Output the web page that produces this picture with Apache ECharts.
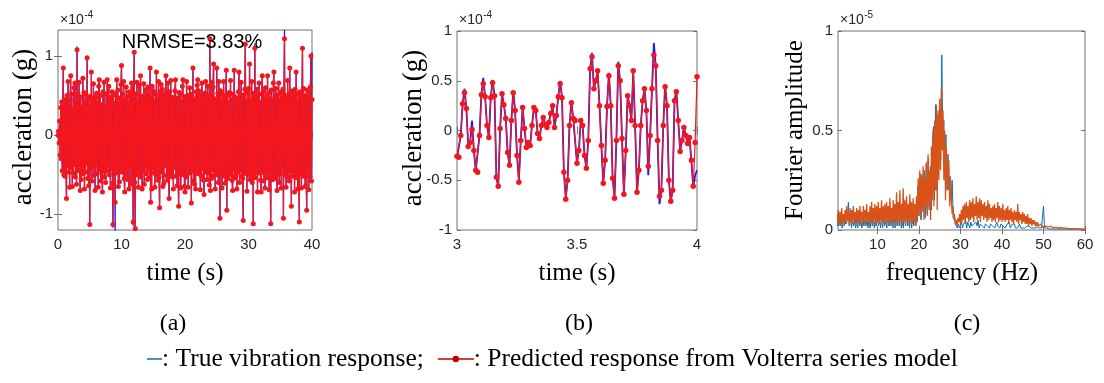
<!DOCTYPE html>
<html><head><meta charset="utf-8">
<script src="https://cdn.jsdelivr.net/npm/echarts@6/dist/echarts.min.js"></script>
<style>html,body{margin:0;padding:0;background:#fff}#c{width:1104px;height:383px}</style>
</head><body><div id="c"></div><script>
// ---------------- DATA ----------------
// (a) full record 0-40 s (×1e-4 g), predicted response, 12 samples per second
const predA = [
0.00,0.05,-0.10,0.18,-0.25,0.35,-0.30,0.42,-0.45,0.38,0.85,-0.50,
0.40,-0.52,0.45,-0.36,-0.80,0.50,-0.38,0.68,-0.47,0.36,-0.66,0.44,
0.75,-0.41,0.52,-0.65,0.33,-0.48,0.60,-0.37,0.66,-0.53,0.39,-0.62,
1.08,-0.45,0.51,-0.38,0.67,-0.44,-0.70,0.48,-0.56,0.35,-0.49,0.72,
-0.43,0.54,-0.68,0.40,-0.47,0.52,-0.36,0.98,-0.55,0.45,-0.64,0.37,
-1.13,0.49,-0.42,0.80,-0.58,0.46,-0.39,0.65,-0.51,0.42,-0.70,0.48,
-0.37,0.53,-0.49,0.41,-0.66,0.62,0.70,-0.44,0.50,-0.58,0.38,-0.46,
-0.72,0.55,-0.41,0.67,-0.53,0.36,-0.60,0.52,-0.45,0.70,-0.39,0.44,
0.62,-0.50,0.43,-0.67,0.48,-0.42,0.55,-0.61,-1.13,0.51,-0.46,0.40,
-0.85,0.53,-0.48,0.70,-0.44,0.57,-0.65,0.39,-0.59,0.47,-0.41,0.64,
0.88,-0.47,0.52,-0.40,0.68,-0.55,-0.72,0.45,-0.50,0.61,-0.43,0.49,
-0.56,0.42,-0.68,0.55,-0.39,0.51,-0.62,0.66,-0.53,0.60,-1.10,0.48,
1.05,-0.60,-1.18,0.52,-0.45,0.67,-0.50,0.41,-0.66,0.63,-0.47,0.44,
0.75,-0.53,0.49,-0.68,0.42,-0.46,0.65,-0.62,0.51,-0.40,0.57,-0.49,
0.45,-0.56,0.61,-0.43,0.50,-0.54,0.85,-0.85,0.47,-0.68,0.62,-0.41,
0.56,-0.48,0.43,-0.66,0.52,-0.45,0.80,-0.51,0.46,-0.57,0.68,-0.53,
-0.92,0.55,-0.47,0.64,-0.42,0.58,-0.65,0.44,-0.61,0.49,-0.38,0.53,
0.75,-0.51,0.46,-0.57,0.66,-0.48,-0.80,0.55,-0.44,0.69,-0.50,0.41,
-0.53,0.48,-0.68,0.45,-0.41,0.56,0.70,-0.52,0.47,-0.64,0.43,-0.49,
-0.90,0.54,-0.46,0.51,-0.67,0.42,-0.50,0.62,0.70,-0.45,0.49,-0.65,
-0.72,0.47,-0.53,0.68,-0.41,0.50,-0.66,0.45,-0.48,0.60,-0.43,0.52,
-0.86,0.50,-0.45,0.85,-0.58,0.46,-0.62,0.41,-0.68,0.55,-0.47,0.63,
0.70,-0.49,0.56,-0.44,0.51,-0.69,0.45,-0.52,0.66,-0.42,0.48,-0.57,
-0.75,0.53,-0.47,0.68,-0.43,0.50,-0.56,0.62,-0.48,0.45,-0.63,1.22,
-0.70,0.49,-0.55,0.67,-0.44,0.61,0.90,-0.51,0.46,-0.68,0.42,-0.50,
0.85,-0.47,0.53,-0.60,0.68,-0.42,-1.05,0.56,-0.49,0.44,-0.67,0.51,
-0.45,0.68,-0.52,0.47,-0.61,0.43,0.82,-0.95,0.50,-0.55,0.41,-0.48,
0.54,-0.46,0.69,-0.50,0.45,-0.57,-0.70,0.52,-0.43,0.82,-0.54,0.48,
-0.51,0.46,-0.68,0.42,-0.47,0.55,0.80,-0.60,0.49,-0.44,0.67,-0.52,
0.47,-0.55,-1.08,0.51,-0.46,0.58,1.15,-0.49,0.43,-0.71,0.54,-0.45,
0.59,-0.50,0.90,-0.56,0.44,-0.52,0.68,-0.60,0.53,-1.12,0.46,-0.49,
1.10,-0.54,0.49,-0.45,0.58,-0.72,0.51,-0.43,0.66,-0.48,0.42,-0.57,
-0.72,0.52,0.75,-0.47,0.55,-0.58,0.44,-0.67,0.60,-0.45,0.49,-0.54,
0.75,-0.48,0.53,-0.69,0.46,-0.42,-1.12,0.57,-0.51,0.44,-0.56,0.66,
0.80,-0.55,0.47,-0.52,0.59,-0.44,-0.70,0.51,-0.47,0.66,-0.60,0.43,
-0.49,0.54,-0.67,0.46,-0.41,0.58,-1.05,0.52,1.22,-0.50,0.45,-0.66,
0.48,-0.53,0.69,-0.46,0.51,-0.58,0.85,-0.44,0.55,-0.90,0.47,-0.52,
0.56,-0.45,0.50,-0.72,0.58,-0.49,0.80,-0.54,0.43,-0.68,0.52,-0.47,
-1.10,0.55,-0.48,0.51,-0.67,0.44,1.10,-0.52,0.59,-0.46,0.50,-0.65,
0.46,-0.51,-0.95,0.57,-0.43,0.54,-0.69,0.48,-0.52,0.61,1.00,-0.58,
0.45];
// (a) true response: identical to the prediction except where the blue trace shows: [time s, value]
const trueDiffA = [[3.0,1.12],[8.667,-1.17],[9.0,-1.22],[11.833,-1.15],[12.167,-1.28],[23.917,1.25],
  [29.5,1.18],[30.75,-1.15],[31.0,1.16],[33.5,-1.15],[35.667,1.33],[40.0,1.05]];
const spanA = [0, 40];

// (b) zoom 3-4 s (×1e-4 g), 128 samples per second
const predB = [
-0.26,-0.27,-0.05,0.27,0.38,0.22,-0.16,-0.12,0.01,-0.20,
-0.40,-0.42,-0.05,0.36,0.47,0.34,0.05,-0.07,0.33,0.48,
0.35,-0.47,-0.56,0.02,0.37,0.26,0.12,-0.22,-0.35,0.10,
0.38,0.20,-0.25,-0.52,-0.10,0.23,0.02,-0.17,-0.12,-0.15,
0.05,0.23,0.20,-0.03,-0.08,0.05,0.13,0.06,0.03,0.08,
0.17,0.25,0.03,0.15,0.34,0.47,0.33,-0.42,-0.69,-0.50,
0.05,0.28,0.12,0.10,-0.33,-0.20,0.10,0.05,-0.25,-0.38,
-0.10,0.62,0.74,0.42,0.50,0.60,0.25,-0.15,-0.53,-0.30,
0.24,0.55,0.25,-0.48,-0.68,-0.10,0.65,0.50,-0.08,-0.64,
-0.20,0.35,0.25,0.10,0.60,0.05,-0.62,-0.40,0.05,0.30,
0.42,0.20,-0.36,-0.05,0.42,0.76,0.65,-0.10,-0.66,-0.60,
0.05,0.44,0.25,-0.50,-0.71,-0.60,0.30,0.39,0.10,-0.21,
-0.10,0.03,-0.05,-0.13,-0.07,-0.30,-0.56,-0.12,0.54];
const trueB = [
-0.28,-0.27,-0.05,0.27,0.42,0.22,-0.16,-0.12,0.10,-0.20,
-0.40,-0.42,-0.05,0.36,0.53,0.34,0.05,-0.07,0.33,0.51,
0.35,-0.47,-0.57,0.02,0.37,0.26,0.12,-0.22,-0.35,0.10,
0.40,0.20,-0.25,-0.50,-0.10,0.23,0.02,-0.17,-0.12,-0.15,
0.05,0.23,0.20,-0.03,-0.08,0.05,0.14,0.06,0.03,0.08,
0.17,0.25,0.03,0.15,0.34,0.50,0.33,-0.42,-0.68,-0.50,
0.05,0.29,0.12,0.10,-0.33,-0.20,0.10,0.05,-0.25,-0.38,
-0.10,0.62,0.78,0.42,0.50,0.60,0.25,-0.15,-0.53,-0.30,
0.24,0.58,0.25,-0.48,-0.68,-0.10,0.69,0.50,-0.08,-0.64,
-0.20,0.35,0.25,0.10,0.60,0.05,-0.62,-0.40,0.05,0.30,
0.42,0.20,-0.45,-0.05,0.42,0.88,0.65,-0.10,-0.74,-0.60,
0.05,0.46,0.25,-0.50,-0.72,-0.60,0.30,0.41,0.10,-0.21,
-0.10,0.03,-0.05,-0.13,-0.07,-0.30,-0.57,-0.45,-0.40];
const spanB = [3, 4];

// (c) Fourier amplitude (×1e-5); predicted every 0.2 Hz, true every 0.25 Hz, 0-60 Hz
const specPred = [
0.02,0.08,0.03,0.10,0.04, 0.09,0.03,0.11,0.02,0.08, 0.04,0.10,0.03,0.12,0.05, 0.09,0.02,0.11,0.04,0.10,
0.03,0.12,0.05,0.09,0.02, 0.11,0.04,0.10,0.03,0.12, 0.05,0.09,0.02,0.12,0.04, 0.10,0.03,0.13,0.05,0.09,
0.02,0.12,0.04,0.14,0.03, 0.11,0.05,0.13,0.02,0.12, 0.04,0.14,0.03,0.11,0.05, 0.15,0.02,0.12,0.04,0.13,
0.03,0.14,0.05,0.12,0.02, 0.16,0.04,0.11,0.03,0.15, 0.05,0.13,0.02,0.19,0.04, 0.14,0.03,0.20,0.05,0.13,
0.02,0.21,0.04,0.15,0.03, 0.17,0.05,0.13,0.02,0.18, 0.04,0.14,0.03,0.16,0.05, 0.13,0.02,0.17,0.04,0.26,
0.08,0.30,0.06,0.28,0.10, 0.32,0.05,0.26,0.12,0.34, 0.07,0.38,0.10,0.30,0.05, 0.42,0.15,0.50,0.12,0.55,
0.20,0.63,0.10,0.60,0.25, 0.66,0.30,0.72,0.40,0.60, 0.25,0.50,0.15,0.42,0.30, 0.20,0.35,0.12,0.25,0.15,
0.08,0.12,0.05,0.07,0.03, 0.05,0.02,0.06,0.04,0.08, 0.03,0.10,0.04,0.12,0.05, 0.13,0.03,0.14,0.06,0.12,
0.04,0.15,0.05,0.14,0.06, 0.16,0.04,0.13,0.07,0.17, 0.05,0.14,0.06,0.16,0.04, 0.15,0.07,0.13,0.05,0.14,
0.06,0.12,0.04,0.15,0.05, 0.13,0.06,0.11,0.04,0.12, 0.05,0.13,0.04,0.11,0.06, 0.14,0.04,0.12,0.05,0.11,
0.04,0.13,0.05,0.10,0.04, 0.11,0.05,0.12,0.03,0.10, 0.05,0.11,0.04,0.09,0.03, 0.10,0.05,0.09,0.04,0.13,
0.03,0.09,0.05,0.08,0.03, 0.09,0.04,0.08,0.03,0.07, 0.03,0.08,0.02,0.06,0.03, 0.06,0.02,0.05,0.03,0.05,
0.02,0.04,0.02,0.04,0.02, 0.03,0.02,0.03,0.02,0.02, 0.01,0.02,0.01,0.02,0.01, 0.02,0.015,0.02,0.01,0.02,
0.015,0.02,0.01,0.015,0.01, 0.015,0.01,0.015,0.01,0.012, 0.01,0.012,0.008,0.01,0.009, 0.01,0.008,0.009,0.007,0.008,
0.007,0.008,0.006,0.007,0.006, 0.006,0.007,0.005,0.006,0.005, 0.005,0.006,0.005,0.005,0.004, 0.005,0.004,0.005,0.004,0.004,
0.004];
const specTrue = [
0.01,0.05,0.02,0.06, 0.02,0.06,0.01,0.07, 0.02,0.06,0.03,0.05, 0.14,0.02,0.06,0.01, 0.06,0.02,0.05,0.01,
0.06,0.01,0.07,0.02, 0.05,0.01,0.06,0.02, 0.06,0.02,0.05,0.01, 0.07,0.01,0.06,0.02, 0.06,0.01,0.07,0.02,
0.07,0.02,0.06,0.01, 0.08,0.01,0.07,0.02, 0.07,0.01,0.08,0.02, 0.08,0.02,0.07,0.01, 0.09,0.01,0.08,0.02,
0.10,0.02,0.09,0.01, 0.10,0.01,0.09,0.02, 0.09,0.02,0.08,0.01, 0.08,0.01,0.09,0.02, 0.08,0.02,0.07,0.22,
0.07,0.28,0.05,0.27, 0.09,0.30,0.06,0.33, 0.08,0.36,0.12,0.32, 0.10,0.45,0.52,0.15, 0.63,0.20,0.58,0.30,
0.65,0.35,0.88,0.45, 0.55,0.30,0.48,0.20, 0.38,0.22,0.27,0.15, 0.25,0.06,0.08,0.03, 0.02,0.01,0.03,0.01,
0.02,0.04,0.01,0.03, 0.02,0.05,0.01,0.04, 0.03,0.01,0.04,0.02, 0.01,0.03,0.02,0.04, 0.02,0.05,0.01,0.03,
0.04,0.02,0.03,0.01, 0.03,0.04,0.02,0.03, 0.01,0.03,0.04,0.02, 0.03,0.01,0.02,0.04, 0.02,0.03,0.01,0.03,
0.04,0.02,0.03,0.01, 0.02,0.03,0.02,0.04, 0.01,0.02,0.03,0.02, 0.03,0.01,0.02,0.01, 0.02,0.03,0.01,0.02,
0.01,0.02,0.01,0.02, 0.02,0.01,0.02,0.01, 0.01,0.015,0.01,0.01, 0.01,0.01,0.015,0.01, 0.01,0.008,0.01,0.008,
0.12,0.01,0.008,0.01, 0.008,0.006,0.008,0.006, 0.006,0.005,0.006,0.005, 0.006,0.005,0.006,0.005, 0.006,0.005,0.005,0.005,
0.005,0.005,0.005,0.004, 0.005,0.004,0.005,0.004, 0.004,0.005,0.004,0.004, 0.004,0.004,0.004,0.004, 0.004,0.004,0.004,0.004,
0.004];
const spanC = [0, 60];

// tick labels
const ticksAx = [0, 10, 20, 30, 40];
const ticksAy = [-1, 0, 1];
const ticksBx = [3, 3.5, 4];
const ticksBy = [-1, -0.5, 0, 0.5, 1];
const ticksCx = [10, 20, 30, 40, 50, 60];
const ticksCy = [0, 0.5, 1];

// texts
const yTitleAB = 'accleration (g)';
const yTitleC = 'Fourier amplitude';
const xTitleAB = 'time (s)';
const xTitleC = 'frequency (Hz)';
const panelLabels = ['(a)', '(b)', '(c)'];
const expAB = '-4', expC = '-5';
const nrmse = 'NRMSE=3.83%';
const legendTexts = [': True vibration response;', ': Predicted response from Volterra series model'];

// ---------------- CHART ----------------
const pairs = (span, ys) => ys.map((v, i) => [span[0] + (span[1] - span[0]) * i / (ys.length - 1), v]);
const trueA = predA.slice();
trueDiffA.forEach(([t, v]) => { trueA[Math.round((t - spanA[0]) / (spanA[1] - spanA[0]) * (predA.length - 1))] = v; });

const SANS = "'Liberation Sans', Arial, sans-serif";
const SERIF = "'Liberation Serif', 'Times New Roman', serif";
const FRAME = '#707070';
const TXT = '#262626';
const RED = '#f2161e', BLUE = '#1c1cf0';
const MBLUE = '#0072BD', MORANGE = '#D95319';

const grids = [
  {left: 58, top: 30, width: 254, height: 200},
  {left: 457, top: 31, width: 240, height: 199},
  {left: 838, top: 31, width: 247, height: 199}
].map(g => Object.assign(g, {show: true, borderColor: FRAME, borderWidth: 1, backgroundColor: 'transparent', containLabel: false}));

function axis(dir, gi, min, max, ticks, secondary) {
  return {
    gridIndex: gi, type: 'value', min, max,
    position: dir === 'x' ? (secondary ? 'top' : 'bottom') : (secondary ? 'right' : 'left'),
    axisLine: {show: false},
    splitLine: {show: false},
    axisTick: {show: true, inside: true, length: 4, customValues: ticks, lineStyle: {color: FRAME, width: 1}},
    axisLabel: {show: !secondary, customValues: ticks, color: TXT, fontFamily: SANS, fontSize: 15,
      margin: dir === 'x' ? 7 : 5}
  };
}

const xAxes = [
  axis('x', 0, 0, 40, ticksAx), axis('x', 1, 3, 4, ticksBx), axis('x', 2, 0.5, 60, ticksCx),
  axis('x', 0, 0, 40, ticksAx, true), axis('x', 1, 3, 4, ticksBx, true), axis('x', 2, 0.5, 60, ticksCx, true)
];
const yAxes = [
  axis('y', 0, -1.2, 1.33, ticksAy), axis('y', 1, -1, 1, ticksBy), axis('y', 2, 0, 1, ticksCy),
  axis('y', 0, -1.2, 1.33, ticksAy, true), axis('y', 1, -1, 1, ticksBy, true), axis('y', 2, 0, 1, ticksCy, true)
];

const series = [
  {type: 'line', xAxisIndex: 0, yAxisIndex: 0, data: pairs(spanA, trueA), showSymbol: false,
    lineStyle: {color: BLUE, width: 1.3}, z: 2},
  {type: 'line', xAxisIndex: 0, yAxisIndex: 0, data: pairs(spanA, predA), symbol: 'circle', symbolSize: 5,
    itemStyle: {color: RED}, lineStyle: {color: RED, width: 1.2}, z: 3},
  {type: 'line', xAxisIndex: 1, yAxisIndex: 1, data: pairs(spanB, trueB), showSymbol: false,
    lineStyle: {color: BLUE, width: 1.8}, z: 2},
  {type: 'line', xAxisIndex: 1, yAxisIndex: 1, data: pairs(spanB, predB), symbol: 'circle', symbolSize: 5.5,
    itemStyle: {color: RED}, lineStyle: {color: RED, width: 1.2}, z: 3},
  {type: 'line', xAxisIndex: 2, yAxisIndex: 2, data: pairs(spanC, specTrue), showSymbol: false,
    lineStyle: {color: MBLUE, width: 1}, z: 2},
  {type: 'line', xAxisIndex: 2, yAxisIndex: 2, data: pairs(spanC, specPred), showSymbol: false,
    lineStyle: {color: MORANGE, width: 1.3}, z: 3}
].map(s => Object.assign(s, {animation: false, silent: true, clip: true}));

const mctx = document.createElement('canvas').getContext('2d');
function tw(text, font) { mctx.font = font; return mctx.measureText(text).width; }

const graphics = [];
function txt(text, x, y, size, family, rot) {
  const g = {type: 'text', x, y, silent: true, z: 50,
    style: {text, fill: '#000', font: size + 'px ' + family, textAlign: 'center', textVerticalAlign: 'middle'}};
  if (rot) g.rotation = rot;
  graphics.push(g);
}
txt(yTitleAB, 24, 127, 27, SERIF, Math.PI / 2);
txt(yTitleAB, 414, 128, 27, SERIF, Math.PI / 2);
txt(yTitleC, 795, 130, 25, SERIF, Math.PI / 2);
txt(xTitleAB, 185, 273, 25, SERIF);
txt(xTitleAB, 577, 273, 25, SERIF);
txt(xTitleC, 962, 273, 25, SERIF);
txt(panelLabels[0], 173, 324, 24, SERIF);
txt(panelLabels[1], 579, 324, 24, SERIF);
txt(panelLabels[2], 967, 324, 24, SERIF);
txt(nrmse, 192, 42, 20, SANS);

function expo(x, exp) {
  const f1 = '14px ' + SANS, f2 = '10px ' + SANS;
  const w = tw('×10', f1);
  graphics.push({type: 'text', x, y: 20, silent: true, z: 50, style: {text: '×10', font: f1, fill: TXT, textAlign: 'left', textVerticalAlign: 'middle'}});
  graphics.push({type: 'text', x: x + w + 0.5, y: 15, silent: true, z: 50, style: {text: exp, font: f2, fill: TXT, textAlign: 'left', textVerticalAlign: 'middle'}});
}
expo(60, expAB); expo(459, expAB); expo(840, expC);

(function () {
  const font = '25.5px ' + SERIF;
  const y = 359;
  let x = 147;
  graphics.push({type: 'line', silent: true, shape: {x1: x, y1: y, x2: x + 15, y2: y}, style: {stroke: MBLUE, lineWidth: 1.5}});
  x += 15;
  graphics.push({type: 'text', x, y, silent: true, style: {text: legendTexts[0], font, fill: '#000', textAlign: 'left', textVerticalAlign: 'middle'}});
  x += tw(legendTexts[0], font) + 14;
  graphics.push({type: 'line', silent: true, shape: {x1: x, y1: y, x2: x + 36, y2: y}, style: {stroke: '#c00000', lineWidth: 1.5}});
  graphics.push({type: 'circle', silent: true, shape: {cx: x + 18, cy: y, r: 3.2}, style: {fill: '#c00000'}});
  x += 36;
  graphics.push({type: 'text', x, y, silent: true, style: {text: legendTexts[1], font, fill: '#000', textAlign: 'left', textVerticalAlign: 'middle'}});
})();

const chart = echarts.init(document.getElementById('c'));
chart.setOption({
  animation: false,
  backgroundColor: '#fff',
  grid: grids,
  xAxis: xAxes,
  yAxis: yAxes,
  series,
  graphic: graphics
});
</script></body></html>
